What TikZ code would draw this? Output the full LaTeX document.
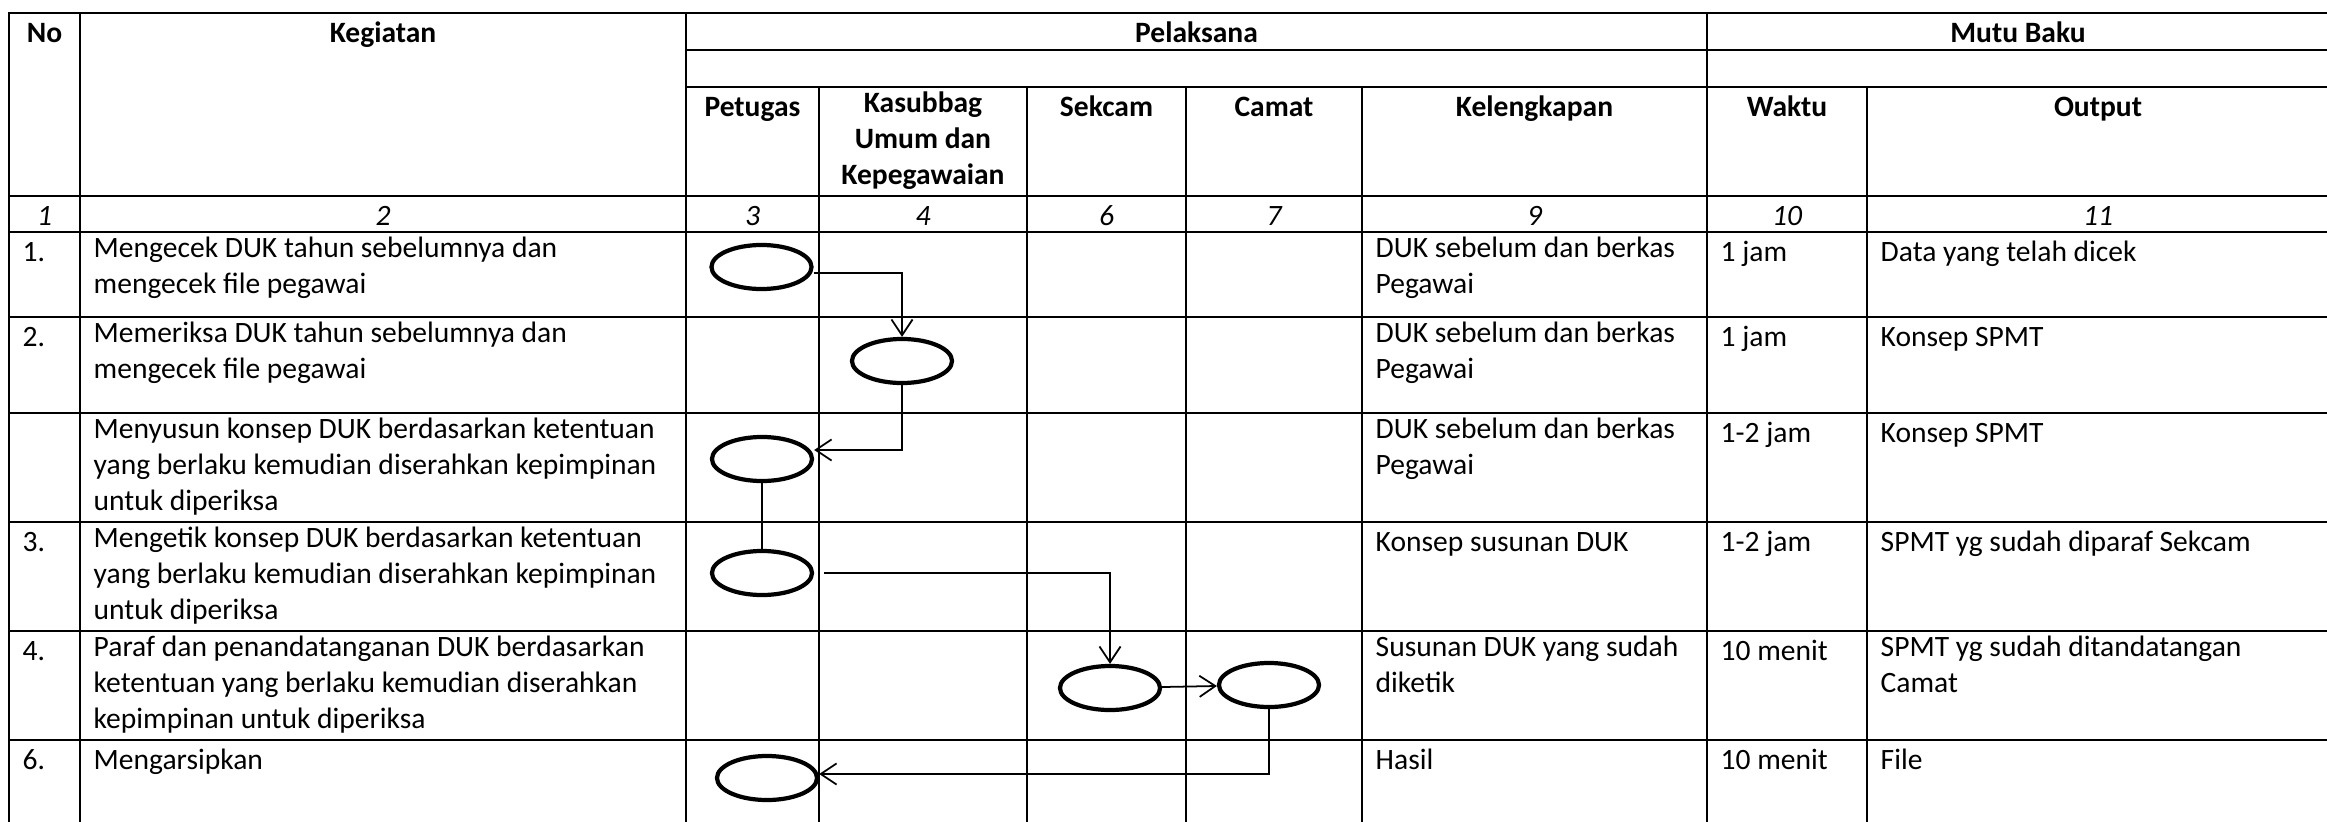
\documentclass[tikz,border=0pt]{standalone}
\usepackage{fontspec}
\setmainfont{Carlito}
\usetikzlibrary{arrows.meta,shapes.geometric}

\begin{document}
\begin{tikzpicture}[
  x=0.01cm, y=-0.01cm,
  every node/.style={inner sep=0pt},
  grid/.style={line width=0.6pt, line cap=rect},
  act/.style={ellipse, draw=black, line width=1.2pt, minimum width=1cm, minimum height=0.44cm},
  flow/.style={line width=0.5pt, -{Straight Barb[length=4.5pt,width=6pt]}},
  link/.style={line width=0.5pt},
  hd/.style={anchor=north, align=center, font=\fontsize{8.4}{10.24}\selectfont\bfseries, execute at begin node=\strut},
  num/.style={anchor=north, font=\fontsize{8.4}{10.24}\selectfont\itshape, execute at begin node=\strut},
  txt/.style={anchor=north west, align=left, font=\fontsize{8.4}{10.24}\selectfont, execute at begin node=\strut},
]
  \useasboundingbox (0,0) rectangle (2327,821);
  % ============ grid ============
  \draw[grid] (9,13) -- (2327,13);
  \draw[grid] (686,50) -- (2327,50);
  \draw[grid] (686,87) -- (2327,87);
  \foreach \y in {196,232,317,413,522,631,740}
    \draw[grid] (9,\y) -- (2327,\y);
  \foreach \x in {9,80,686,1707}
    \draw[grid] (\x,13) -- (\x,821);
  \foreach \x in {819,1027,1186,1362,1867}
    \draw[grid] (\x,87) -- (\x,821);
  % ============ header ============
  \node[hd] (hNo) at (44.5,17) {No};
  \node[hd] (hKeg) at (383,17) {Kegiatan};
  \node[hd] (hPel) at (1196.5,17) {Pelaksana};
  \node[hd] (hMutu) at (2018,17) {Mutu Baku};
  \node[hd] (hPet) at (752.5,91) {Petugas};
  \node[hd] (hKas) at (923,91) {Kasubbag\\Umum dan\\Kepegawaian};
  \node[hd] (hSek) at (1106.5,91) {Sekcam};
  \node[hd] (hCam) at (1274,91) {Camat};
  \node[hd] (hKel) at (1534.5,91) {Kelengkapan};
  \node[hd] (hWak) at (1787,91) {Waktu};
  \node[hd] (hOut) at (2098,91) {Output};
  % column numbers
  \foreach \x/\t in {44.5/1,383/2,752.5/3,923/4,1106.5/6,1274/7,1534.5/9,1787/10,2098/11}
    \node[num] (c\t) at (\x,200) {\t};
  % ============ row 1 ============
  \begin{scope}[shift={(0,232)}]
    \node[txt] (no1) at (22,4) {1.};
    \node[txt] (keg1) at (93,4) {Mengecek DUK tahun sebelumnya dan\\mengecek file pegawai};
    \node[txt] (kel1) at (1375,4) {DUK sebelum dan berkas\\Pegawai};
    \node[txt] (wak1) at (1720,4) {1 jam};
    \node[txt] (out1) at (1880,4) {Data yang telah dicek};
    \node[act] (e1) at (761.5,35) {};
  \end{scope}
  % ============ row 2 ============
  \begin{scope}[shift={(0,317)}]
    \node[txt] (no2) at (22,4) {2.};
    \node[txt] (keg2) at (93,4) {Memeriksa DUK tahun sebelumnya dan\\mengecek file pegawai};
    \node[txt] (kel2) at (1375,4) {DUK sebelum dan berkas\\Pegawai};
    \node[txt] (wak2) at (1720,4) {1 jam};
    \node[txt] (out2) at (1880,4) {Konsep SPMT};
    \node[act] (e2) at (902,44) {};
  \end{scope}
  % ============ row 3 ============
  \begin{scope}[shift={(0,413)}]
    \node[txt] (keg3) at (93,4) {Menyusun konsep DUK berdasarkan ketentuan\\yang berlaku kemudian diserahkan kepimpinan\\untuk diperiksa};
    \node[txt] (kel3) at (1375,4) {DUK sebelum dan berkas\\Pegawai};
    \node[txt] (wak3) at (1720,4) {1-2 jam};
    \node[txt] (out3) at (1880,4) {Konsep SPMT};
    \node[act] (e3) at (762,46) {};
  \end{scope}
  % ============ row 4 ============
  \begin{scope}[shift={(0,522)}]
    \node[txt] (no4) at (22,4) {3.};
    \node[txt] (keg4) at (93,4) {Mengetik konsep DUK berdasarkan ketentuan\\yang berlaku kemudian diserahkan kepimpinan\\untuk diperiksa};
    \node[txt] (kel4) at (1375,4) {Konsep susunan DUK};
    \node[txt] (wak4) at (1720,4) {1-2 jam};
    \node[txt] (out4) at (1880,4) {SPMT yg sudah diparaf Sekcam};
    \node[act] (e4) at (762,51) {};
  \end{scope}
  % ============ row 5 ============
  \begin{scope}[shift={(0,631)}]
    \node[txt] (no5) at (22,4) {4.};
    \node[txt] (keg5) at (93,4) {Paraf dan penandatanganan DUK berdasarkan\\ketentuan yang berlaku kemudian diserahkan\\kepimpinan untuk diperiksa};
    \node[txt] (kel5) at (1375,4) {Susunan DUK yang sudah\\diketik};
    \node[txt] (wak5) at (1720,4) {10 menit};
    \node[txt] (out5) at (1880,4) {SPMT yg sudah ditandatangan\\Camat};
    \node[act] (e5) at (1110,57) {};
    \node[act] (e6) at (1269,54) {};
  \end{scope}
  % ============ row 6 ============
  \begin{scope}[shift={(0,740)}]
    \node[txt] (no6) at (22,4) {6.};
    \node[txt] (keg6) at (93,4) {Mengarsipkan};
    \node[txt] (kel6) at (1375,4) {Hasil};
    \node[txt] (wak6) at (1720,4) {10 menit};
    \node[txt] (out6) at (1880,4) {File};
    \node[act] (e7) at (767,38) {};
  \end{scope}
  % flow
  \draw[flow] ([yshift=-0.06cm]e1.east) -| (e2.north);
  \draw[flow] (e2.south) |- ([yshift=0.09cm]e3.east);
  \draw[link] (e3.south) -- (e4.north);
  \draw[flow] ([xshift=0.1cm]e4.east) -| (e5.north);
  \draw[flow] (e5) -- (e6);
  \draw[flow] (e6.south) |- ([yshift=0.04cm]e7.east);
\end{tikzpicture}
\end{document}
